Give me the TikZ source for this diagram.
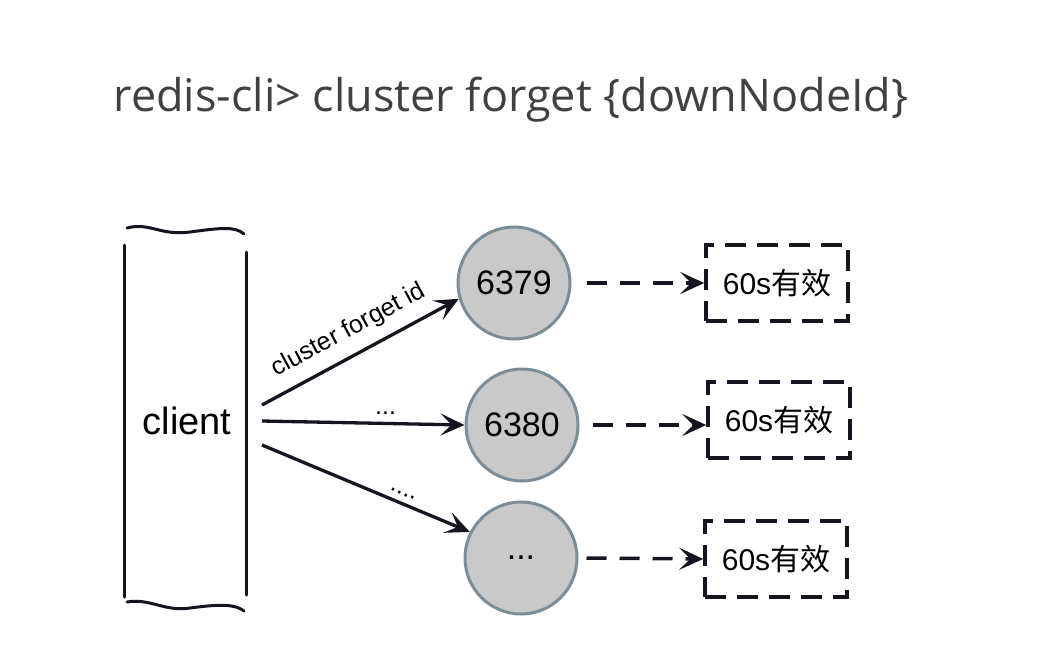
\documentclass[tikz,border=0pt]{standalone}
\usepackage{fontspec}
\setmainfont{Liberation Sans}
\newfontfamily\titlefont{Open Sans}
\newfontfamily\cjk{Noto Sans CJK SC}
\usetikzlibrary{arrows.meta}
\definecolor{ink}{HTML}{151520}
\definecolor{titlegray}{HTML}{404040}
\definecolor{nodefill}{HTML}{C9C9C9}
\definecolor{nodeedge}{HTML}{7E8C96}
\tikzset{
  tip/.style={-{Stealth[length=24pt,width=22pt,inset=11pt]}},
  srv/.style={circle,draw=nodeedge,fill=nodefill,line width=3pt,minimum size=112pt,inner sep=0pt,font=\fontsize{34}{36}\selectfont},
  solidarr/.style={draw=ink,line width=3.3pt,tip},
  dasharr/.style={draw=ink,line width=3.5pt,dash pattern=on 20pt off 13pt,tip},
  ttlbox/.style={draw=ink,line width=3.5pt,dash pattern=on 21pt off 11pt,minimum width=142pt,minimum height=76pt,inner sep=0pt,font=\fontsize{30}{32}\selectfont},
  bracket/.style={draw=ink,line width=3pt,line cap=round},
  lbl/.style={font=\fontsize{25}{28}\selectfont,inner sep=1pt}
}
\begin{document}
\begin{tikzpicture}[x=1pt,y=-1pt]
\useasboundingbox (0,0) rectangle (1038,665);
% title
\node[text=titlegray,font=\titlefont\fontsize{45}{52}\selectfont] (title) at (511,100) {redis-cli> cluster forget \{downNodeId\}};
% client bracket
\draw[bracket] (124,245) -- (124,597);
\draw[bracket] (246,252) -- (246,595);
\draw[bracket] (127,228) .. controls (150,222) and (160,236) .. (190,232) .. controls (220,228) and (235,226) .. (244,234);
\draw[bracket] (127,602) .. controls (150,598) and (165,612) .. (190,608) .. controls (220,604) and (235,604) .. (244,611);
\node[font=\fontsize{38}{42}\selectfont] (client) at (187,421) {client};
\coordinate (c1) at (262,405);
\coordinate (c2) at (262,421);
\coordinate (c3) at (262,445);
% servers
\node[srv] (n1) at (514,283) {6379};
\node[srv] (n2) at (522,425) {6380};
\node[srv] (n3) at (521,558) {...};
% arrows from client
\draw[solidarr] (c1) -- (n1.196) node[lbl,pos=0.5,sloped,above=10pt] (l1) {cluster forget id};
\draw[solidarr] (c2) -- (n2.west) node[lbl,pos=0.61,above=6pt] (l2) {...};
\draw[solidarr] (c3) -- (n3.153) node[lbl,pos=0.66,sloped,above=5pt] (l3) {....};
% ttl boxes
\node[ttlbox] (t1) at (777,283) {60s{\cjk 有效}};
\node[ttlbox] (t2) at (779,420) {60s{\cjk 有效}};
\node[ttlbox] (t3) at (776,559) {60s{\cjk 有效}};
\draw[dasharr] (n1.east) ++(15,0) coordinate (d1) -- (t1.west);
\draw[dasharr] (n2.east) ++(13,0) coordinate (d2) -- (t2.west |- n2.east);
\draw[dasharr] (n3.east) ++(8,0) coordinate (d3) -- (t3.west);
\end{tikzpicture}
\end{document}
